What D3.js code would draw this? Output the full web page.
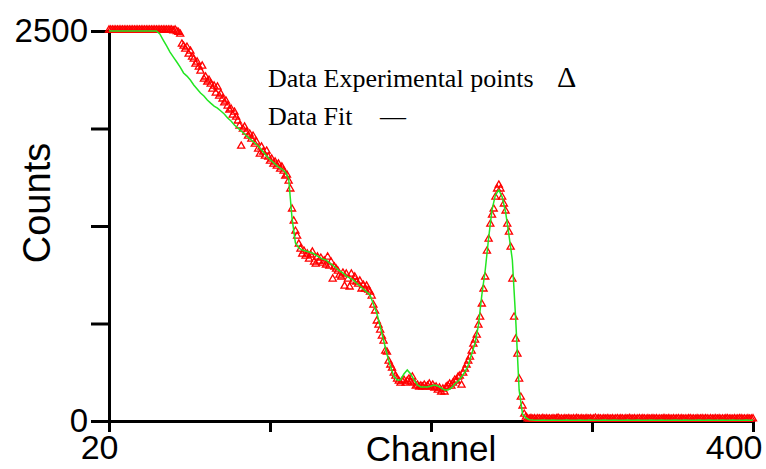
<!DOCTYPE html>
<meta charset="utf-8">

<!-- Load d3.js -->
<script src="https://d3js.org/d3.v7.min.js"></script>

<style>
  body { margin: 0; background: #fff; }
</style>

<!-- Create a div where the graph will take place -->
<div id="my_chart"></div>

<script>
// measured counts, one per channel (20 .. 400)
var pointCounts = [
  2500,2500,2500,2500,2500,2500,2500,2500,2500,2500,
  2500,2500,2500,2500,2500,2500,2500,2500,2500,2500,
  2500,2500,2500,2500,2500,2500,2500,2500,2500,2500,
  2500,2500,2500,2500,2500,2500,2500,2500,2495,2500,
  2490,2485,2474,2410,2397,2378,2390,2346,2365,2327,
  2314,2282,2295,2263,2237,2269,2186,2199,2167,2179,
  2154,2122,2141,2096,2135,2077,2090,2058,2033,2045,
  2013,1987,1994,1955,1974,1942,1917,1885,1756,1865,
  1878,1846,1820,1833,1801,1820,1769,1782,1737,1705,
  1750,1718,1692,1724,1686,1660,1673,1641,1654,1628,
  1641,1609,1622,1596,1564,1571,1532,1481,1353,1276,
  1211,1179,1128,1096,1064,1083,1051,1064,1032,1058,
  1077,1013,1000,1045,1019,1038,1006,1019,994,1045,
  987,1013,904,981,968,955,929,917,942,859,
  936,904,853,936,891,917,885,872,891,840,
  865,840,859,833,820,795,737,699,635,609,
  577,538,506,442,436,378,353,333,301,282,
  263,250,237,250,256,237,250,263,244,276,
  237,218,224,212,218,212,224,212,218,231,
  212,224,205,212,192,205,180,199,180,212,
  218,231,218,237,256,250,276,282,224,301,
  327,353,378,404,442,487,513,545,609,660,
  744,840,917,1083,1160,1256,1314,1353,1429,1481,
  1506,1481,1429,1385,1340,1256,1205,1109,904,660,
  519,423,263,147,90,38,19,8,6,10,
  6,8,5,9,7,6,10,5,8,6,
  7,5,9,6,8,12,6,7,5,8,
  6,9,7,5,8,6,10,7,6,8,
  5,7,9,6,8,5,7,12,6,8,
  7,5,8,6,9,7,6,8,5,7,
  9,6,8,7,5,8,6,10,7,6,
  8,5,7,9,6,8,7,5,8,6,
  7,9,6,8,5,7,6,8,9,6,
  8,7,5,8,6,7,9,6,8,5,
  7,6,8,9,6,7,5,8,6,7,
  9,6,8,7,5,8,6,7,9,6,
  8,5,7,6,8,9,6,7,5,8,
  6,7,9,8,6,7,5,8,6,7,
  8
];
var pointChannels = d3.range(20, 401);

// fit curve, every second channel (20 .. 400)
var fitCounts = [
  2500,2500,2500,2500,2500,2500,2500,2500,2500,2500,2500,2500,2500,2500,2500,
  2481,2442,2404,2365,2333,2301,2269,2231,2211,2186,
  2154,2128,2103,2083,2058,2038,2019,2006,1987,1968,
  1942,1923,1897,1878,1859,1840,1820,1801,1782,1763,
  1737,1711,1686,1667,1647,1628,1615,1596,1555,1300,
  1141,1109,1096,1090,1083,1077,1064,1051,1038,1032,
  1013,1000,981,962,949,929,917,904,885,865,
  846,827,808,750,692,609,519,429,353,288,
  263,263,301,327,301,263,231,218,218,218,
  224,231,224,212,199,199,212,237,256,282,
  314,359,429,500,615,808,968,1173,1353,1449,
  1481,1436,1340,1192,1032,647,199,45,19,8,
  6,5,5,6,5,5,6,5,5,5,6,5,5,5,6,5,5,6,5,5,5,6,
  5,5,6,5,5,5,6,5,5,6,5,5,5,6,5,5,6,5,5,5,6,5,
  5,6,5,5,5,6,5,5,6,5,5,5,6,5,5,6,5,5,5,6,5,5
];
var fitChannels = d3.range(20, 401, 2);

// axis ticks
var xTicks = [20, 115, 210, 305, 400];
var xTickLabels = ["20", "", "", "", "400"];
var yTicks = [0, 625, 1250, 1875, 2500];
var yTickLabels = ["0", "", "", "", "2500"];

var legendLabels = ["Data Experimental points", "Data Fit"];
var legendSymbols = ["\u0394", "\u2014"];

// dimensions
var width = 766, height = 469;

var svg = d3.select("#my_chart")
  .append("svg")
    .attr("width", width)
    .attr("height", height)
    .style("display", "block");

var x = d3.scaleLinear()
  .domain([20, 400])
  .range([109, 753]);

var y = d3.scaleLinear()
  .domain([0, 2500])
  .range([421, 31]);

// Y axis
var yAxis = svg.append("g")
  .attr("transform", "translate(" + x(20) + ",0)")
  .call(d3.axisLeft(y)
    .tickValues(yTicks)
    .tickFormat(function(d, i) { return yTickLabels[i]; })
    .tickSize(18)
    .tickSizeOuter(0)
    .tickPadding(3));

// X axis
var xAxis = svg.append("g")
  .attr("transform", "translate(0," + y(0) + ")")
  .call(d3.axisBottom(x)
    .tickValues(xTicks)
    .tickFormat(function(d, i) { return xTickLabels[i]; })
    .tickSize(11)
    .tickSizeOuter(0)
    .tickPadding(4));

svg.selectAll(".domain, .tick line")
  .attr("stroke", "#000")
  .attr("stroke-width", 3);

yAxis.selectAll(".tick text")
  .attr("dy", "0.32em")
  .style("font-family", "'Liberation Sans', Arial, sans-serif")
  .style("font-size", "33px")
  .attr("fill", "#000");

xAxis.selectAll(".tick text")
  .attr("text-anchor", "end")
  .attr("dx", 9)
  .attr("dy", "0.68em")
  .style("font-family", "'Liberation Sans', Arial, sans-serif")
  .style("font-size", "34px")
  .attr("fill", "#000");

// axis titles
svg.append("text")
  .attr("x", x(210))
  .attr("y", 461)
  .attr("text-anchor", "middle")
  .style("font-family", "'Liberation Sans', Arial, sans-serif")
  .style("font-size", "35px")
  .text("Channel");

svg.append("text")
  .attr("transform", "translate(50," + 203 + ") rotate(-90)")
  .attr("text-anchor", "middle")
  .style("font-family", "'Liberation Sans', Arial, sans-serif")
  .style("font-size", "38px")
  .text("Counts");

// experimental points
var tri = d3.symbol().type(d3.symbolTriangle).size(22);

svg.append("g")
  .selectAll("path")
  .data(pointCounts)
  .enter()
  .append("path")
    .attr("d", tri)
    .attr("transform", function(d, i) {
      return "translate(" + x(pointChannels[i]) + "," + (y(d) - 1) + ")";
    })
    .attr("fill", "none")
    .attr("stroke", "#ff0000")
    .attr("stroke-width", 1.3);

// fit line
var line = d3.line()
  .x(function(d, i) { return x(fitChannels[i]); })
  .y(function(d) { return y(d); });

svg.append("path")
  .datum(fitCounts)
  .attr("d", line)
  .attr("fill", "none")
  .attr("stroke", "#22e622")
  .attr("stroke-width", 1.5);

// legend
svg.selectAll(".legtext")
  .data(legendLabels)
  .enter()
  .append("text")
    .attr("class", "legtext")
    .attr("x", 268)
    .attr("y", function(d, i) { return 87 + i * 38; })
    .style("font-family", "'Liberation Serif', 'Times New Roman', serif")
    .style("font-size", "26px")
    .text(function(d) { return d; });

svg.selectAll(".legsym")
  .data(legendSymbols)
  .enter()
  .append("text")
    .attr("class", "legsym")
    .attr("x", function(d, i) { return i == 0 ? 557 : 380; })
    .attr("y", function(d, i) { return 87 + i * 38; })
    .style("font-family", "'Liberation Serif', 'Times New Roman', serif")
    .style("font-size", function(d, i) { return i == 0 ? "30px" : "26px"; })
    .text(function(d) { return d; });
</script>
